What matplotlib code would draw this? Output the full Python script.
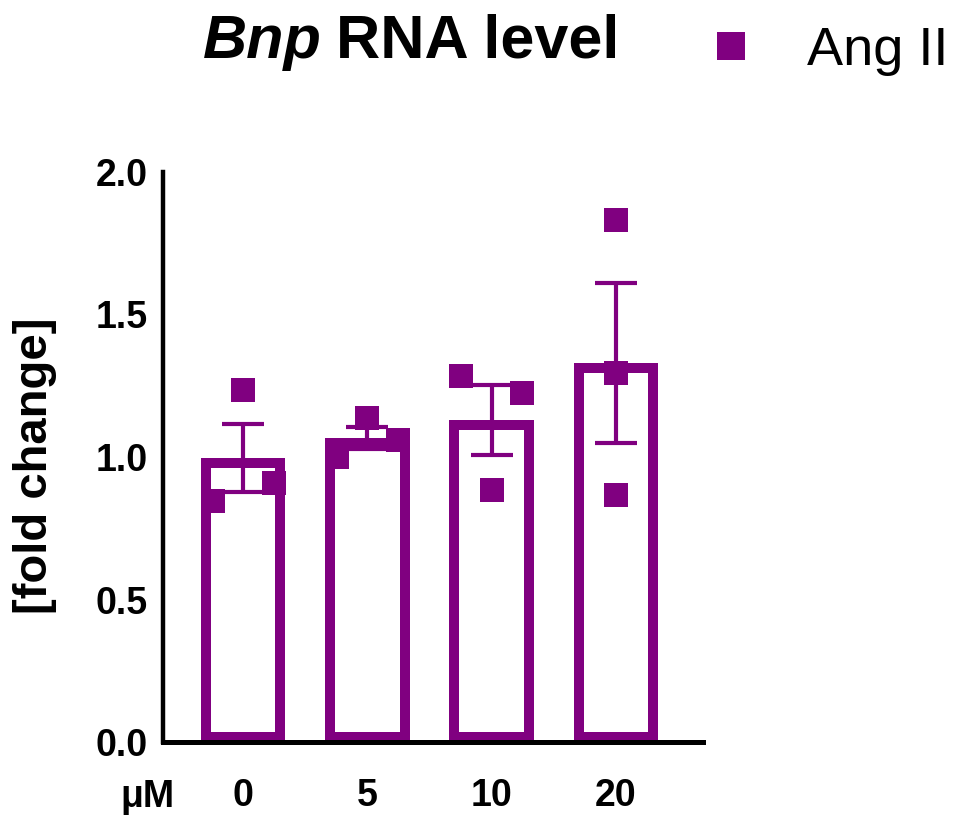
import matplotlib.pyplot as plt
from matplotlib.lines import Line2D

plt.rcParams['font.family'] = ['Liberation Sans', 'DejaVu Sans']

# Data
doses = ['0', '5', '10', '20']
means = [0.997, 1.066, 1.130, 1.330]
sems = [0.120, 0.039, 0.124, 0.280]
points = [[0.847, 1.235, 0.908],
          [1.001, 1.137, 1.059],
          [1.284, 0.884, 1.223],
          [1.832, 1.293, 0.865]]
point_offsets = [[-0.245, 0.0, 0.245],
                 [-0.245, 0.0, 0.245],
                 [-0.245, 0.0, 0.245],
                 [0.0, 0.0, 0.0]]

color = '#800080'

fig = plt.figure(figsize=(9.58, 8.16), dpi=100)
ax = fig.add_axes([163 / 958, 74 / 816, 540 / 958, 570 / 816])

x = list(range(len(doses)))

# bars with the outline drawn inside the bar (clip to itself)
bars = ax.bar(x, means, width=0.68, facecolor='white', edgecolor=color,
              linewidth=14.4, zorder=2)
for b in bars:
    b.set_clip_path(b)

ax.errorbar(x, means, yerr=sems, fmt='none', ecolor=color, elinewidth=3,
            capsize=15.4, capthick=3, zorder=3)

for i in x:
    xs = [i + o for o in point_offsets[i]]
    ax.plot(xs, points[i], linestyle='none', marker='s', markersize=16.6,
            markeredgewidth=0, color=color, zorder=4)

ax.set_xlim(-0.644, 3.70)
ax.set_ylim(0, 2.0)
ax.set_yticks([0, 0.5, 1.0, 1.5, 2.0])
ax.set_yticklabels(['0.0', '0.5', '1.0', '1.5', '2.0'])
ax.set_xticks(x)
ax.set_xticklabels(doses)

for s in ['top', 'right']:
    ax.spines[s].set_visible(False)
ax.spines['left'].set_linewidth(3.2)
ax.spines['bottom'].set_linewidth(3.6)
ax.tick_params(axis='y', length=0, pad=11, labelsize=27)
ax.tick_params(axis='x', length=0, pad=26, labelsize=27)
for lab in ax.get_xticklabels() + ax.get_yticklabels():
    lab.set_fontweight('bold')

# y label
fig.text(35 / 958, 1 - 466 / 816, '[fold change]', fontsize=34,
         fontweight='bold', rotation=90, ha='center', va='center')

fig.text(147 / 958, 1 - 797 / 816, 'μM', fontsize=27, fontweight='bold',
         ha='center', va='center')

# title: italic gene name + bold rest
t1 = fig.text(203 / 958, 1 - 58 / 816, 'Bnp', fontsize=44, fontweight='bold',
              fontstyle='italic', ha='left', va='baseline')
fig.canvas.draw()
bb = t1.get_window_extent()
fig.text((bb.x1 + 14) / 958, 1 - 58 / 816, 'RNA level', fontsize=44,
         fontweight='bold', ha='left', va='baseline')

handle = Line2D([], [], linestyle='none', marker='s', markersize=20,
                markeredgewidth=0, color=color)
fig.legend([handle], ['Ang II'], loc='center left',
           bbox_to_anchor=(704 / 958, 1 - 51 / 816), frameon=False,
           fontsize=39, handletextpad=0.9, handlelength=1.0,
           borderpad=0, borderaxespad=0)

fig.savefig('out.png', dpi=100)
